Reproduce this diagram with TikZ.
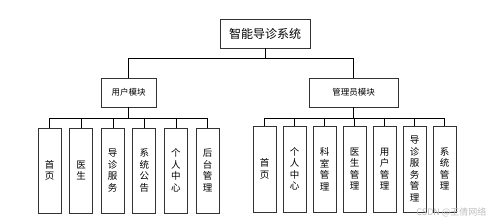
\documentclass[tikz,border=0pt]{standalone}
\usepackage{fontspec}
\setmainfont{Noto Sans CJK SC}
\tikzset{
  box/.style={draw=black!80, line width=0.7pt, inner sep=0pt},
  leaf/.style={box, minimum width=23pt, minimum height=85pt, align=center,
    font=\fontsize{9.5}{11.5}\selectfont},
  link/.style={line width=0.8pt}
}
\begin{document}
\begin{tikzpicture}[x=1pt,y=-1pt]
\useasboundingbox[fill=white] (0,0) rectangle (498,224);
% root and modules
\node [box, minimum width=90pt, minimum height=29pt, font=\fontsize{12}{14}\selectfont] (root) at (265,33.5) {智能导诊系统};
\node [box, minimum width=55pt, minimum height=29pt, font=\fontsize{8.5}{10}\selectfont] (um) at (128.5,92.5) {用户模块};
\node [box, minimum width=89pt, minimum height=29pt, font=\fontsize{8.5}{10}\selectfont] (am) at (353.5,92.5) {管理员模块};
\coordinate (j0) at (265,58);
\draw [link] (root.south) -- (j0);
\draw [link] (j0) -| (um.north);
\draw [link] (j0) -| (am.north);
% user leaves
\coordinate (ju) at (128.5,118);
\draw [link] (um.south) -- (ju);
\foreach \t [count=\i] in {{首\\页},{医\\生},{导\\诊\\服\\务},{系\\统\\公\\告},{个\\人\\中\\心},{后\\台\\管\\理}} {
  \node [leaf] (u\i) at ({49.5+(\i-1)*31.6},170.5) {\t};
  \draw (ju) -| (u\i.north);
}
% admin leaves
\coordinate (ja) at (353.5,118);
\draw [link] (am.south) -- (ja);
\foreach \t [count=\i] in {{首\\页},{个\\人\\中\\心},{科\\室\\管\\理},{医\\生\\管\\理},{用\\户\\管\\理},{导\\诊\\服\\务\\管\\理},{系\\统\\管\\理}} {
  \node [leaf, minimum height=86pt] (a\i) at ({264.5+(\i-1)*30},169) {\t};
  \draw (ja) -| (a\i.north);
}
\node [text=black!25, font=\fontsize{9}{10}\selectfont, anchor=east] (wm) at (490,212) {CSDN @王倩网络};
\end{tikzpicture}
\end{document}
